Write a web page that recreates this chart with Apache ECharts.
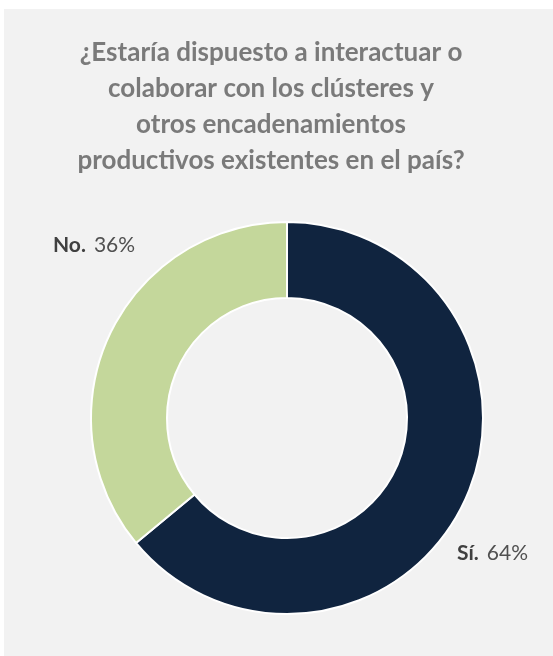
<!DOCTYPE html>
<html>
<head>
<meta charset="utf-8">
<script src="https://cdn.jsdelivr.net/npm/echarts@6/dist/echarts.min.js"></script>
<style>
html,body{margin:0;padding:0;background:#fff;}
#chart{width:553px;height:656px;}
</style>
</head>
<body>
<div id="chart"></div>
<script>
const titleLines = [
  '¿Estaría dispuesto a interactuar o',
  'colaborar con los clústeres y',
  'otros encadenamientos',
  'productivos existentes en el país?'
];
const categories = ['Sí.', 'No.'];
const values = [64, 36];
const colors = ['#10243f', '#c4d79b'];

const chart = echarts.init(document.getElementById('chart'), null, {renderer: 'canvas'});
const FONT = 'Lato, "Open Sans", sans-serif';

const labelPos = [
  {x: 457, y: 553, align: 'left'},
  {x: 53, y: 245, align: 'left'}
];

chart.setOption({
  backgroundColor: '#ffffff',
  graphic: [{
    type: 'rect', z: -10, silent: true,
    shape: {x: 4, y: 9, width: 560, height: 660},
    style: {fill: '#f2f2f2'}
  }],
  title: {
    text: titleLines.join('\n'),
    left: 266,
    top: 30,
    textAlign: 'center',
    textStyle: {
      fontFamily: FONT,
      fontSize: 26,
      fontWeight: 'bold',
      color: '#7a7a7a',
      lineHeight: 36
    }
  },
  series: [{
    type: 'pie',
    center: [287, 418],
    radius: [120, 196],
    startAngle: 90,
    clockwise: true,
    avoidLabelOverlap: false,
    itemStyle: {borderColor: '#ffffff', borderWidth: 2},
    label: {
      show: true,
      position: 'outside',
      formatter: p => '{b|' + p.name + '}{v|' + p.value + '%}',
      rich: {
        b: {fontFamily: FONT, fontSize: 21, fontWeight: 'bold', color: '#404040'},
        v: {fontFamily: FONT, fontSize: 21, color: '#505050', padding: [0, 0, 0, 8]}
      }
    },
    labelLine: {show: false},
    labelLayout: p => ({
      x: labelPos[p.dataIndex].x,
      y: labelPos[p.dataIndex].y,
      align: labelPos[p.dataIndex].align,
      verticalAlign: 'middle'
    }),
    emphasis: {disabled: true},
    data: categories.map((c, i) => ({name: c, value: values[i], itemStyle: {color: colors[i]}}))
  }],
  animation: false
});
</script>
</body>
</html>
